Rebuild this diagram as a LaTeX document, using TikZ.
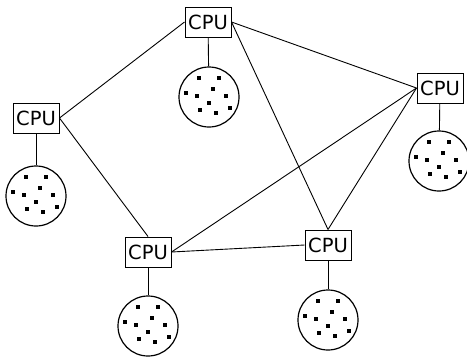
\documentclass[tikz,border=0pt]{standalone}
\usepackage{fontspec}
\setmainfont{DejaVu Sans}
\begin{document}
\begin{tikzpicture}[x=1pt,y=-1pt,
  cpu/.style={draw,line width=1pt,fill=white,minimum width=46pt,minimum height=30pt,inner sep=0pt,font=\fontsize{19.5}{19.5}\selectfont},
  mem/.style={draw,line width=1.2pt,circle,minimum size=60pt,inner sep=0pt},
  link/.style={line width=0.9pt}]
\useasboundingbox (0,0) rectangle (467,357);
\node[cpu] (t) at (208,22) {CPU};
\node[cpu] (l) at (36,118) {CPU};
\node[cpu] (bl) at (148,252) {CPU};
\node[cpu] (br) at (328,245) {CPU};
\node[cpu] (r) at (440,88) {CPU};
\node[mem] (mt) at (209,97) {};
\node[mem] (ml) at (36,196) {};
\node[mem] (mbl) at (148,326) {};
\node[mem] (mbr) at (328,320) {};
\node[mem] (mr) at (439,161) {};
\draw[link] (t) -- (mt);
\draw[link] (l) -- (ml);
\draw[link] (bl) -- (mbl);
\draw[link] (br) -- (mbr);
\draw[link] (r) -- (mr);
\draw[link] (t.west) -- (l.east);
\draw[link] (t.east) -- (r.west);
\draw[link] (t.east) -- (br.north);
\draw[link] (l.east) -- (bl.north);
\draw[link] (bl.east) -- (r.west);
\draw[link] (bl.east) -- (br.west);
\draw[link] (r.west) -- (br.north);
\foreach \m in {mt,ml,mbl,mbr,mr}{
  \foreach \dx/\dy in {-10/-19,10/-19,4/-8,-23/-4,-12/-1,17/-1,0/6,-9/13,21/11,7/16}{
    \fill ([shift={(\dx-1.9,\dy-1.9)}]\m.center) rectangle ++(3.8,3.8);}}
\end{tikzpicture}
\end{document}
